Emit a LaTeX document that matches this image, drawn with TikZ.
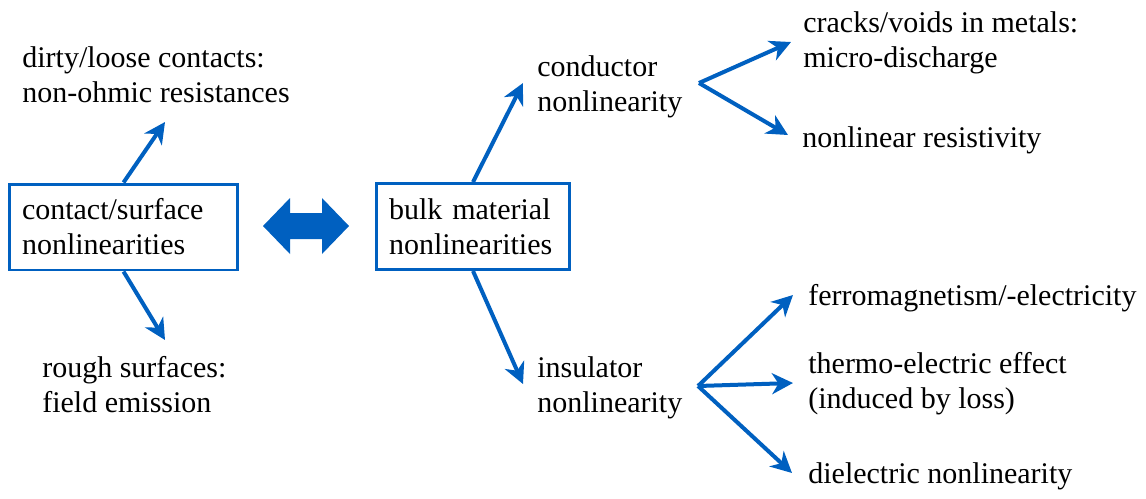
\documentclass[tikz,border=0pt]{standalone}
\usepackage{fontspec}
\setmainfont{Liberation Serif}
\usetikzlibrary{arrows.meta}
\definecolor{nlblue}{RGB}{0,96,192}
\tikzset{
    lbl/.style={anchor=base west, inner sep=0pt, align=left,
        font=\fontsize{17.07pt}{19.9pt}\selectfont},
    box/.style={draw=nlblue, line width=0.06cm, inner xsep=0.26cm, align=left,
        minimum height=1.72cm, font=\fontsize{17.07pt}{19.9pt}\selectfont},
    arr/.style={draw=nlblue, line width=0.08cm,
        -{Stealth[length=0.42cm, width=0.42cm, inset=0.13cm]}}
}
\begin{document}
\begin{tikzpicture}[x=0.02cm, y=-0.02cm]
    \useasboundingbox (0,0) rectangle (1146,498);

    % the two main boxes
    \node[box, text width=4.06cm] (contact) at (123.5,227) {contact/surface\\nonlinearities};
    \node[box, text width=3.36cm] (bulk) at (473,226.5) {bulk material\\nonlinearities};

    % block arrow in between
    \fill[nlblue] (263,226) -- (290,198) -- (290,213) -- (322,213) -- (322,198)
        -- (349,226) -- (322,254) -- (322,239) -- (290,239) -- (290,254) -- cycle;

    % labels (base = last line)
    \node[lbl] (dirty) at (22,102) {dirty/loose contacts:\\non-ohmic resistances};
    \node[lbl] (rough) at (42,412) {rough surfaces:\\field emission};
    \node[lbl] (conductor) at (537,111) {conductor\\nonlinearity};
    \node[lbl] (insulator) at (537,412) {insulator\\nonlinearity};
    \node[lbl] (cracks) at (803,67) {cracks/voids in metals:\\micro-discharge};
    \node[lbl] (resist) at (802,147) {nonlinear resistivity};
    \node[lbl] (ferro) at (808,305) {ferromagnetism/-electricity};
    \node[lbl] (thermo) at (808,408) {thermo-electric effect\\(induced by loss)};
    \node[lbl] (dielec) at (808,483) {dielectric nonlinearity};

    % arrow ends
    \coordinate (dirtyend) at (165,122);
    \coordinate (roughend) at (165,340);
    \coordinate (condend) at (523,83);
    \coordinate (insend) at (523,384);
    \coordinate (cfork) at (699,83);
    \coordinate (ifork) at (698,386);
    \coordinate (cracksend) at (791,42);
    \coordinate (resistend) at (788,135);
    \coordinate (ferroend) at (793,295);
    \coordinate (thermoend) at (793,383);
    \coordinate (dielecend) at (792,473);

    \draw[arr] (contact.north) -- (dirtyend);
    \draw[arr] (contact.south) -- (roughend);
    \draw[arr] (bulk.north) -- (condend);
    \draw[arr] (bulk.south) -- (insend);
    \foreach \e in {cracksend, resistend}
        \draw[arr] (cfork) -- (\e);
    \foreach \e in {ferroend, thermoend, dielecend}
        \draw[arr] (ifork) -- (\e);

\end{tikzpicture}
\end{document}
